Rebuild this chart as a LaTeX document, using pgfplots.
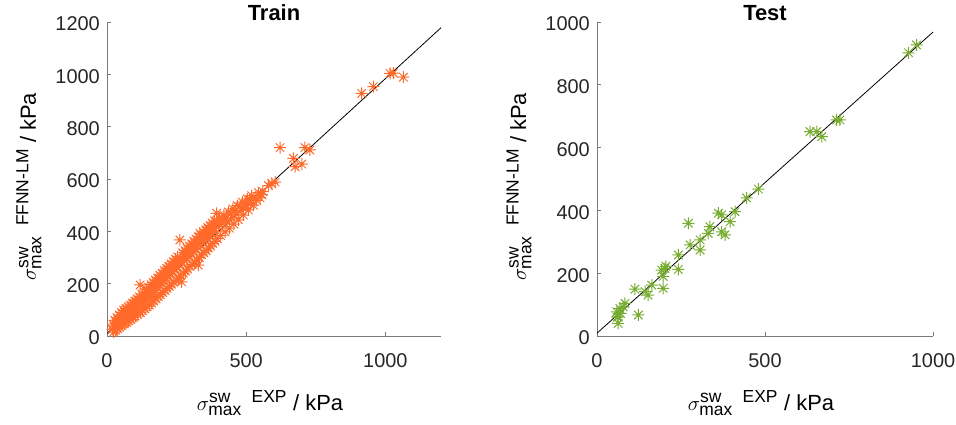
\documentclass[border=0pt]{standalone}
\usepackage{amsmath}
\usepackage{fontspec}
\setmainfont{Liberation Sans}
\usepackage{pgfplots}
\pgfplotsset{compat=1.18}
% label size with larger script text for the sub/superscripts
\DeclareMathSizes{22}{22}{17.5}{14}

\definecolor{trainorange}{HTML}{FF6A2A}
\definecolor{testgreen}{HTML}{77AC30}
\definecolor{axtext}{HTML}{262626}
\definecolor{axline}{HTML}{7A7A7A}

% eight-spoke asterisk marker (a plus and a cross)
\pgfdeclareplotmark{ast8}{%
  \pgfpathmoveto{\pgfpoint{-\pgfplotmarksize}{0pt}}%
  \pgfpathlineto{\pgfpoint{\pgfplotmarksize}{0pt}}%
  \pgfpathmoveto{\pgfpoint{0pt}{-\pgfplotmarksize}}%
  \pgfpathlineto{\pgfpoint{0pt}{\pgfplotmarksize}}%
  \pgfpathmoveto{\pgfpoint{-0.7071\pgfplotmarksize}{-0.7071\pgfplotmarksize}}%
  \pgfpathlineto{\pgfpoint{0.7071\pgfplotmarksize}{0.7071\pgfplotmarksize}}%
  \pgfpathmoveto{\pgfpoint{-0.7071\pgfplotmarksize}{0.7071\pgfplotmarksize}}%
  \pgfpathlineto{\pgfpoint{0.7071\pgfplotmarksize}{-0.7071\pgfplotmarksize}}%
  \pgfusepathqstroke}

\newcommand{\xlab}{$\sigma^{\text{sw}}_{\text{max}}$\hspace{0.45em}$^{\text{EXP}}$ / kPa}
\newcommand{\ylab}{$\sigma^{\text{sw}}_{\text{max}}$\hspace{0.45em}$^{\text{FFNN-LM}}$ / kPa}

\pgfplotsset{
  panel/.style={
    scale only axis,
    height=314bp,
    axis lines=left,
    axis line style={-, draw=axline, line width=0.8bp},
    tick align=inside,
    major tick length=4bp,
    tick style={draw=axline, line width=0.8bp},
    ticklabel style={font=\fontsize{20}{24}\selectfont, text=axtext, inner sep=0pt},
    /pgf/number format/assume math mode=true,
    /pgf/number format/1000 sep={},
    xticklabel style={anchor=base, yshift=-31bp},
    yticklabel style={anchor=east, xshift=-7bp, yshift=-2bp},
    label style={font=\fontsize{22}{26}\selectfont, text=black},
    every axis title/.style={font=\fontsize{22}{26}\selectfont\bfseries,
      anchor=base, at={(axis description cs:0.5,1)}, yshift=1.5bp},
    xlabel style={at={(axis description cs:0.488,-0.2357)}, anchor=base},
    clip=false,
    xmin=0, ymin=0,
    xtick={0,500,1000},
  },
  pts/.style={only marks, mark=ast8, mark size=6bp,
    mark options={line width=1bp}},
}

\begin{document}
\begin{tikzpicture}
\useasboundingbox (0,0) rectangle (956bp,425bp);

% ---------------- training set ----------------
\begin{axis}[panel,
  at={(107bp,89bp)}, anchor=south west,
  width=334bp,
  xmax=1200, ymax=1200,
  ytick={0,200,...,1200},
  title={Train},
  xlabel={\xlab},
  ylabel={\ylab},
  ylabel style={at={(axis description cs:-0.2126,0.475)}, anchor=base},
]
\addplot[pts, color=trainorange] coordinates {
(20,25) (22,45) (24,15) (26,38) (28,60) (30,22) (32,50) (34,36) (36,70) (38,28)
(40,58) (42,44) (44,80) (46,34) (48,66) (50,52) (52,90) (54,40) (56,74) (58,60)
(60,98) (62,46) (64,82) (66,68) (68,105) (70,52) (72,90) (74,76) (76,112) (78,58)
(80,98) (82,84) (84,118) (86,64) (88,106) (90,92) (92,126) (94,70) (96,114) (98,100)
(100,134) (102,76) (104,122) (106,108) (108,142) (110,82) (112,130) (114,116)
(116,150) (119,195) (120,90) (122,138) (124,124) (126,160) (128,96) (130,148)
(132,132) (134,168) (136,104) (138,156) (140,140) (142,178) (144,112) (146,164)
(148,150) (150,186) (152,118) (154,172) (156,158) (158,196) (160,126) (162,182)
(164,166) (166,204) (168,134) (170,190) (172,176) (174,214) (176,142) (178,200)
(180,184) (182,222) (184,150) (186,208) (188,194) (190,232) (192,158) (194,218)
(196,202) (198,240) (200,166) (202,226) (204,210) (206,250) (208,174) (210,236)
(212,218) (214,258) (216,182) (218,244) (220,228) (222,266) (224,190) (226,252)
(228,236) (230,276) (232,198) (234,262) (236,246) (238,284) (240,206) (242,270)
(244,254) (246,294) (248,214) (250,278) (252,262) (254,302) (256,222) (258,288)
(260,272) (262,367) (264,230) (266,296) (268,207) (270,282) (272,318) (274,240)
(276,304) (278,288) (280,326) (282,248) (284,312) (286,296) (288,336) (290,256)
(292,320) (294,306) (296,344) (298,266) (300,330) (302,314) (304,352) (306,274)
(308,338) (310,322) (312,362) (314,282) (316,346) (318,332) (320,370) (322,290)
(324,356) (326,340) (328,271) (330,380) (332,300) (334,392) (336,350) (338,386)
(340,310) (342,372) (344,358) (346,398) (348,318) (350,380) (352,366) (354,406)
(356,326) (358,390) (360,374) (362,414) (364,336) (366,398) (368,384) (370,422)
(372,344) (374,406) (376,392) (378,432) (380,354) (382,416) (384,400) (386,440)
(388,362) (390,424) (394,469) (396,372) (398,434) (400,418) (404,450) (408,384)
(412,442) (416,430) (420,462) (424,398) (428,452) (432,440) (436,474) (440,412)
(444,466) (448,452) (452,486) (456,428) (460,478) (464,466) (468,498) (472,444)
(478,494) (482,480) (486,512) (490,462) (496,506) (500,490) (504,524) (508,482)
(512,520) (516,504) (520,536) (526,500) (532,530) (538,518) (544,548) (550,528)
(556,540) (560,552)
(580,575) (592,583) (604,588) (622,720) (670,679) (676,647) (700,657) (711,720)
(729,711) (915,927) (957,953) (1017,1004) (1029,1005) (1065,989)
};
\addplot[black, line width=0.8bp, mark=none] coordinates {(0,10) (1200,1178)};
\end{axis}

% ---------------- test set ----------------
\begin{axis}[panel,
  at={(597bp,89bp)}, anchor=south west,
  width=336bp,
  xmax=1000, ymax=1000,
  ytick={0,200,...,1000},
  title={Test},
  xlabel={\xlab},
  ylabel={\ylab},
  ylabel style={at={(axis description cs:-0.2113,0.475)}, anchor=base},
]
\addplot[pts, color=testgreen] coordinates {
(63,40) (63,61) (59,77) (68,88) (78,93) (83,104) (60,60) (70,72) (123,67)
(113,149) (143,141) (152,130) (163,162) (197,152) (192,210) (202,215) (197,190)
(205,222) (242,258) (242,212) (277,290) (307,274) (307,306) (331,327) (336,348)
(272,359) (361,391) (371,386) (371,332) (381,322) (396,364) (411,396) (445,440)
(480,468) (634,651) (654,651) (669,635) (713,688) (723,688) (927,902) (951,927)
};
\addplot[black, line width=0.8bp, mark=none] coordinates {(0,9) (1000,968)};
\end{axis}
\end{tikzpicture}
\end{document}
